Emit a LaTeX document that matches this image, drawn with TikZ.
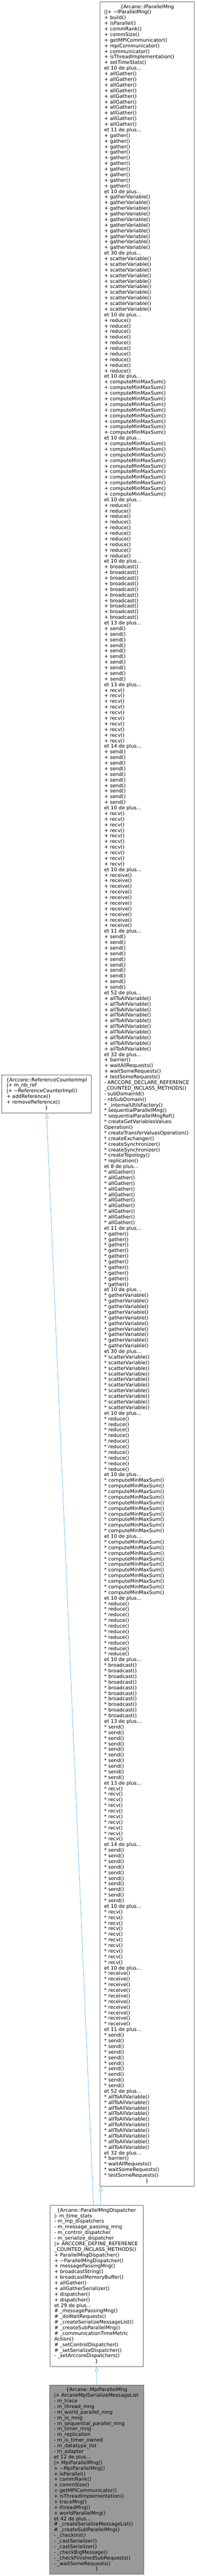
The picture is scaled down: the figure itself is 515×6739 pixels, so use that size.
\documentclass[tikz,border=0pt]{standalone}
\usepackage{fontspec}
\setmainfont{DejaVu Sans}
\usetikzlibrary{arrows.meta}
\definecolor{edgeblue}{HTML}{63B8FF}
\definecolor{boxline}{HTML}{666666}
\definecolor{curfill}{HTML}{999999}
\newcommand\umlfont{\fontsize{12.96bp}{14.66bp}\selectfont}
\newcommand\tdots{...}
\tikzset{cls/.style={draw=boxline,line width=1bp,fill=white,inner sep=0pt,outer sep=0pt,anchor=north west},cur/.style={cls,fill=curfill},mem/.style={anchor=base west,inner sep=0pt,font=\umlfont},ttl/.style={anchor=base,inner sep=0pt,font=\umlfont},inh/.style={draw=edgeblue,line width=1bp,-{Triangle[open,length=13bp,width=10bp]}}}

\begin{document}
\begin{tikzpicture}[x=1bp,y=-1bp]
\useasboundingbox (0,0) rectangle (515,6739);
\node[cls,minimum width=247bp,minimum height=5714.6bp] (ipm) at (262,4.5) {};
\node[cls,minimum width=234bp,minimum height=99.8bp] (refc) at (5,2811.9) {};
\node[cls,minimum width=244bp,minimum height=422.3bp] (mpd) at (131,5769) {};
\node[cur,minimum width=247bp,minimum height=495.6bp] (mpm) at (130,6239) {};

\node[ttl] (ipm-t) at (385.5,21.7) {\{Arcane::IParallelMng};
\foreach \t [count=\n] in {{\textbar\textbar+ \textasciitilde IParallelMng()},{+ build()},{+ isParallel()},{+ commRank()},{+ commSize()},{+ getMPICommunicator()},{+ mpiCommunicator()},{+ communicator()},{+ isThreadImplementation()},{+ setTimeStats()},{et 10 de plus\tdots}}
  \node[mem] (ipm-h\n) at (273,{21.7+\n*14.66}) {\t};
\foreach \f/\k [count=\g from 0] in {allGather/11,gather/10,gatherVariable/30,scatterVariable/10,reduce/10,computeMinMaxSum/10,computeMinMaxSum/10,reduce/10,broadcast/13,send/13,recv/14,send/10,recv/10,receive/11,send/52,allToAllVariable/32}{
  \foreach \j in {1,...,10}
    \node[mem] (ipm-a\g-\j) at (273,{21.7+(11+11*\g+\j)*14.66}) {+ \f()};
  \node[mem] (ipm-a\g-more) at (273,{21.7+(22+11*\g)*14.66}) {et \k\ de plus\tdots};
}
\foreach \t [count=\n from 188] in {{+ barrier()},{+ waitAllRequests()},{+ waitSomeRequests()},{+ testSomeRequests()},{- ARCCORE\_DECLARE\_REFERENCE},{\_COUNTED\_INCLASS\_METHODS()},{- subDomainId()},{- nbSubDomain()},{* \_internalUtilsFactory()},{* sequentialParallelMng()},{* sequentialParallelMngRef()},{* createGetVariablesValues},{Operation()},{* createTransferValuesOperation()},{* createExchanger()},{* createSynchronizer()},{* createSynchronizer()},{* createTopology()},{* replication()},{et 8 de plus\tdots}}
  \node[mem] (ipm-p\n) at (273,{21.7+\n*14.66}) {\t};
\foreach \f/\k [count=\g from 0] in {allGather/11,gather/10,gatherVariable/30,scatterVariable/10,reduce/10,computeMinMaxSum/10,computeMinMaxSum/10,reduce/10,broadcast/13,send/13,recv/14,send/10,recv/10,receive/11,send/52,allToAllVariable/32}{
  \foreach \j in {1,...,10}
    \node[mem] (ipm-b\g-\j) at (273,{21.7+(207+11*\g+\j)*14.66}) {* \f()};
  \node[mem] (ipm-b\g-more) at (273,{21.7+(218+11*\g)*14.66}) {et \k\ de plus\tdots};
}
\foreach \t [count=\n from 384] in {{* barrier()},{* waitAllRequests()},{* waitSomeRequests()},{* testSomeRequests()}}
  \node[mem] (ipm-q\n) at (273,{21.7+\n*14.66}) {\t};
\node[ttl] (ipm-e) at (385.5,{21.7+388*14.66}) {\}};

\node[ttl] (refc-t) at (122,2829.1) {\{Arccore::ReferenceCounterImpl};
\foreach \t [count=\n] in {{\textbar+ m\_nb\_ref},{\textbar+ \textasciitilde ReferenceCounterImpl()},{+ addReference()},{+ removeReference()}}
  \node[mem] (refc-\n) at (17,{2829.1+\n*14.66}) {\t};
\node[ttl] (refc-e) at (122,{2829.1+5*14.66}) {\}};

\node[ttl] (mpd-t) at (253,5786.2) {\{Arcane::ParallelMngDispatcher};
\foreach \t [count=\n] in {{\textbar- m\_time\_stats},{- m\_mp\_dispatchers},{- m\_message\_passing\_mng},{- m\_control\_dispatcher},{- m\_serialize\_dispatcher},{\textbar+ ARCCORE\_DEFINE\_REFERENCE},{\_COUNTED\_INCLASS\_METHODS()},{+ ParallelMngDispatcher()},{+ \textasciitilde ParallelMngDispatcher()},{+ messagePassingMng()},{+ broadcastString()},{+ broadcastMemoryBuffer()},{+ allGather()},{+ allGatherSerializer()},{+ dispatcher()},{+ dispatcher()},{et 29 de plus\tdots},{\# \_messagePassingMng()},{\# \_doWaitRequests()},{\# \_createSerializeMessageList()},{\# \_createSubParallelMng()},{\# \_communicationTimeMetric},{Action()},{\# \_setControlDispatcher()},{\# \_setSerializeDispatcher()},{- \_setArccoreDispatchers()}}
  \node[mem] (mpd-\n) at (142,{5786.2+\n*14.66}) {\t};
\node[ttl] (mpd-e) at (253,{5786.2+27*14.66}) {\}};

\node[ttl] (mpm-t) at (253.5,6256.2) {\{Arcane::MpiParallelMng};
\foreach \t [count=\n] in {{\textbar+ ArcaneMpiSerializeMessageList},{- m\_trace},{- m\_thread\_mng},{- m\_world\_parallel\_mng},{- m\_io\_mng},{- m\_sequential\_parallel\_mng},{- m\_timer\_mng},{- m\_replication},{- m\_is\_timer\_owned},{- m\_datatype\_list},{- m\_adapter},{et 12 de plus\tdots},{\textbar+ MpiParallelMng()},{+ \textasciitilde MpiParallelMng()},{+ isParallel()},{+ commRank()},{+ commSize()},{+ getMPICommunicator()},{+ isThreadImplementation()},{+ traceMng()},{+ threadMng()},{+ worldParallelMng()},{et 42 de plus\tdots},{\# \_createSerializeMessageList()},{\# \_createSubParallelMng()},{- \_checkInit()},{- \_castSerializer()},{- \_castSerializer()},{- \_checkBigMessage()},{- \_checkFinishedSubRequests()},{- \_waitSomeRequests()}}
  \node[mem] (mpm-\n) at (141,{6256.2+\n*14.66}) {\t};
\node[ttl] (mpm-e) at (253.5,{6256.2+32*14.66}) {\}};

\draw[inh] ([xshift=132bp]mpd.north west) -- ([xshift=2bp]ipm.south west);
\draw[inh] ([xshift=114bp]mpd.north west) -- (refc.south);
\draw[inh] (mpm.north) -- (mpd.south);
\end{tikzpicture}
\end{document}
